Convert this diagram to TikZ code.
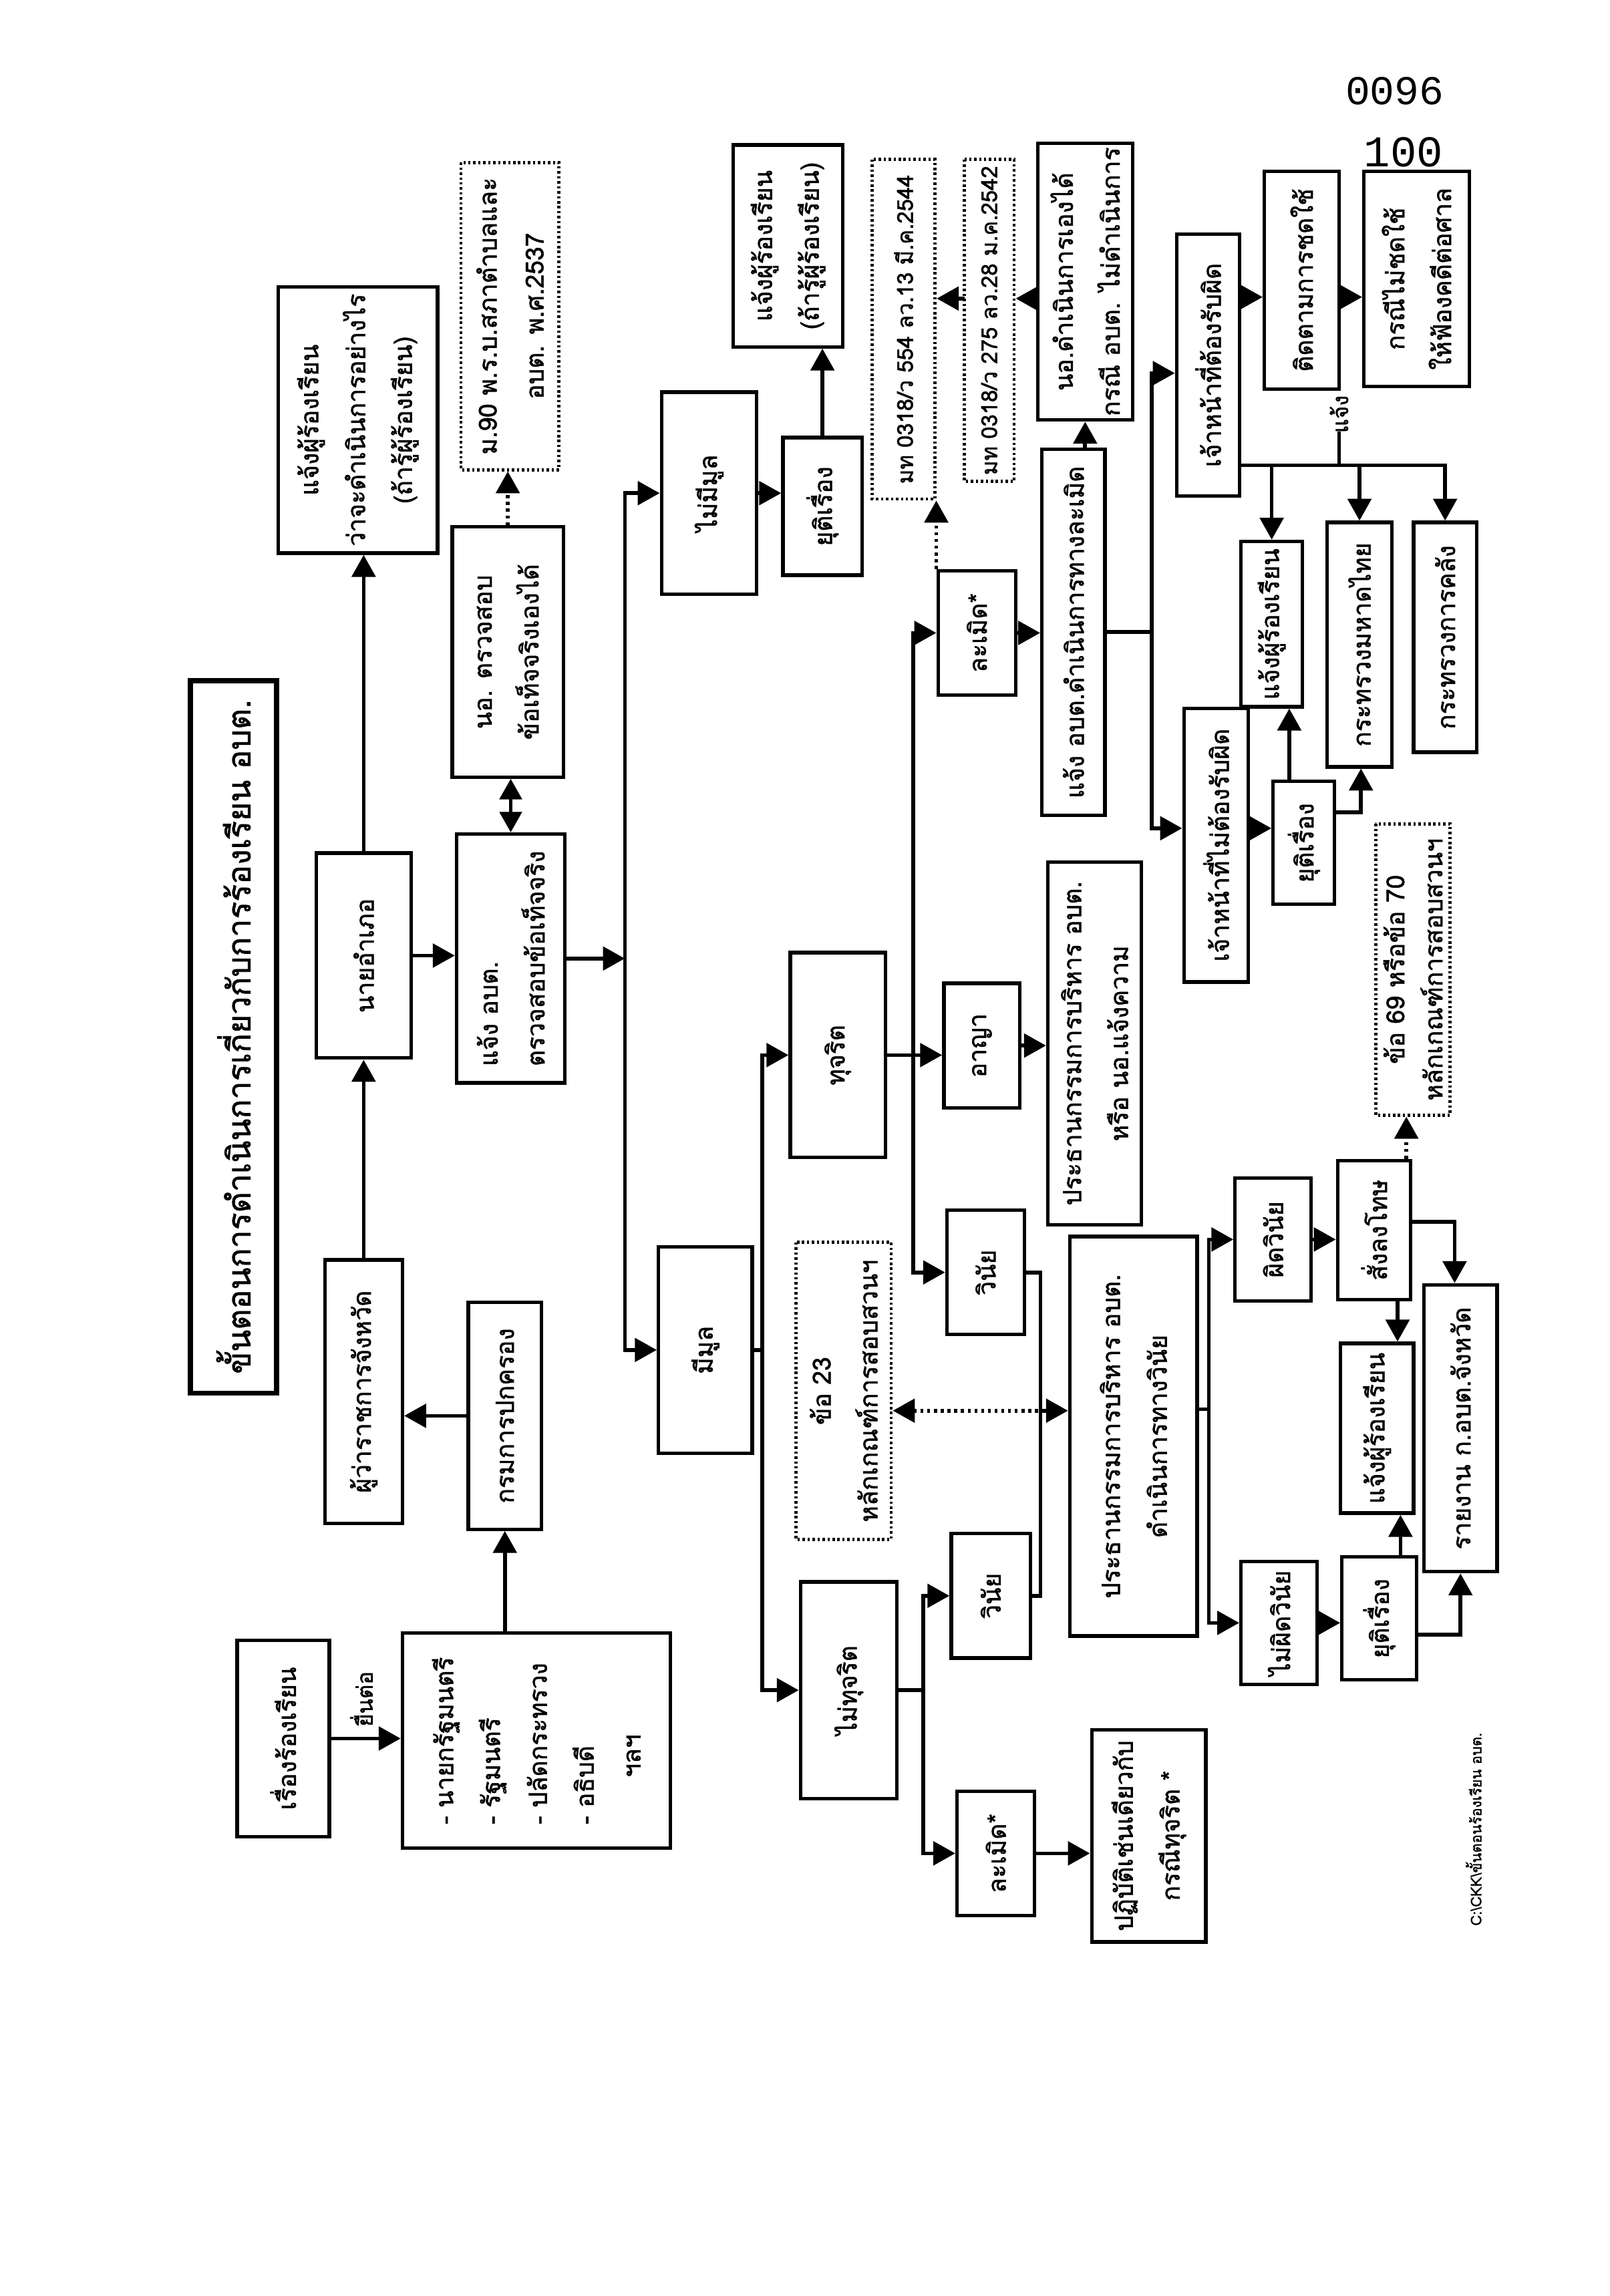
\documentclass[tikz,border=0pt]{standalone}
\usepackage{fontspec}
\setmainfont[Script=Thai,FakeBold=1.5]{Loma}
\newfontfamily\numfont{Liberation Mono}
\usetikzlibrary{arrows.meta}

\tikzset{
  box/.style={draw, line width=2.4pt, rotate=90, align=center, inner sep=0.5pt,
    font=\fontsize{17}{32}\selectfont},
  dotbox/.style={box, line width=2.2pt, dash pattern=on 1.6pt off 1.8pt},
  memobox/.style={dotbox, font=\fontsize{15}{20}\selectfont},
  titlebox/.style={box, line width=3.6pt, font=\fontsize{22}{26}\selectfont},
  lbl/.style={rotate=90, inner sep=0pt, font=\fontsize{15}{18}\selectfont},
  wire/.style={line width=2.6pt, line cap=rect},
  flow/.style={wire, -{Triangle[length=15pt,width=16pt]}},
  both/.style={wire, {Triangle[length=14pt,width=15pt]}-{Triangle[length=14pt,width=15pt]}},
  dotflow/.style={flow, line cap=butt, dash pattern=on 2pt off 2.6pt},
  backdot/.style={dotflow, {Triangle[length=15pt,width=16pt]}-},
}

\begin{document}
\begin{tikzpicture}[x=1pt,y=-1pt]
            \useasboundingbox (0,0) rectangle (1100,1569);
            \fill[white] (0,0) rectangle (1100,1569);

            \node[titlebox, minimum width=487pt, minimum height=59pt] (title) at (159.5,708.5) {ขั้นตอนการดำเนินการเกี่ยวกับการร้องเรียน อบต.};

            \node[box, minimum width=134pt, minimum height=63pt] (complaint) at (193.5,1188) {เรื่องร้องเรียน};
            \node[box, minimum width=147pt, minimum height=183pt, align=left] (recipients) at (366.5,1189.5) {- นายกรัฐมนตรี\\- รัฐมนตรี\\- ปลัดกระทรวง\\- อธิบดี\\\hspace*{32pt}ฯลฯ};
            \node[box, minimum width=180pt, minimum height=53pt] (governor) at (248.5,951) {ผู้ว่าราชการจังหวัด};
            \node[box, minimum width=155pt, minimum height=50pt] (dopa) at (345,967.5) {กรมการปกครอง};
            \node[box, minimum width=140pt, minimum height=65pt] (nayamphoe) at (248.5,653) {นายอำเภอ};
            \node[box, minimum width=182pt, minimum height=109pt] (inform1) at (244.5,287) {แจ้งผู้ร้องเรียน\\ว่าจะดำเนินการอย่างไร\\(ถ้ารู้ผู้ร้องเรียน)};
            \node[box, minimum width=170pt, minimum height=74pt, align=left] (tellaobt) at (349,655) {แจ้ง อบต.\\ตรวจสอบข้อเท็จจริง};
            \node[box, minimum width=171pt, minimum height=76pt] (selfcheck) at (347,445.5) {นอ. ตรวจสอบ\\ข้อเท็จจริงเองได้};
            \node[dotbox, minimum width=210pt, minimum height=67pt] (law90) at (348.5,216) {ม.90 พ.ร.บ.สภาตำบลและ\\อบต. พ.ศ.2537};

            \node[box, minimum width=138pt, minimum height=65pt] (nobasis) at (484.5,337) {ไม่มีมูล};
            \node[box, minimum width=141pt, minimum height=64pt] (basis) at (482,922.5) {มีมูล};
            \node[box, minimum width=94pt, minimum height=54pt] (stopA) at (562,346) {ยุติเรื่อง};
            \node[box, minimum width=138pt, minimum height=75pt] (informA) at (538.5,168) {แจ้งผู้ร้องเรียน\\(ถ้ารู้ผู้ร้องเรียน)};
            \node[box, minimum width=140pt, minimum height=65pt] (corrupt) at (572.5,721) {ทุจริต};
            \node[box, minimum width=148pt, minimum height=66pt] (notcorrupt) at (580,1155) {ไม่ทุจริต};
            \node[dotbox, minimum width=203pt, minimum height=65pt] (rule23) at (576.5,950.5) {ข้อ 23\\หลักเกณฑ์การสอบสวนฯ};

            \node[memobox, minimum width=232pt, minimum height=43pt] (order554) at (617.5,225) {มท 0318/ว 554 ลว.13 มี.ค.2544};
            \node[memobox, minimum width=220pt, minimum height=34pt] (order275) at (676,219) {มท 0318/ว 275 ลว.28 ม.ค.2542};
            \node[box, minimum width=85pt, minimum height=53pt] (tortA) at (667.5,432.5) {ละเมิด*};
            \node[box, minimum width=85pt, minimum height=52pt] (criminal) at (671,714.5) {อาญา};
            \node[box, minimum width=85pt, minimum height=53pt] (disciplineA) at (673.5,869.5) {วินัย};
            \node[box, minimum width=85pt, minimum height=54pt] (disciplineB) at (677,1090.5) {วินัย};
            \node[box, minimum width=85pt, minimum height=53pt] (tortB) at (680.5,1266.5) {ละเมิด*};
            \node[box, minimum width=189pt, minimum height=65pt] (amphoeact) at (741.5,192.5) {นอ.ดำเนินการเองได้\\กรณี อบต. ไม่ดำเนินการ};
            \node[box, minimum width=250pt, minimum height=43pt] (torttell) at (733.5,432) {แจ้ง อบต.ดำเนินการทางละเมิด};
            \node[box, minimum width=248pt, minimum height=64pt] (chairpolice) at (748,713) {ประธานกรรมการบริหาร อบต.\\หรือ นอ.แจ้งความ};
            \node[box, minimum width=273pt, minimum height=87pt] (chairdisc) at (774.5,981.5) {ประธานกรรมการบริหาร อบต.\\ดำเนินการทางวินัย};
            \node[box, minimum width=145pt, minimum height=78pt] (sameas) at (785,1254.5) {ปฏิบัติเช่นเดียวกับ\\กรณีทุจริต *};

            \node[box, minimum width=179pt, minimum height=43pt] (liable) at (825.5,249.5) {เจ้าหน้าที่ต้องรับผิด};
            \node[box, minimum width=187pt, minimum height=44pt] (notliable) at (831,577.5) {เจ้าหน้าที่ไม่ต้องรับผิด};
            \node[box, minimum width=149pt, minimum height=51pt] (followup) at (889.5,191.5) {ติดตามการชดใช้};
            \node[box, minimum width=147pt, minimum height=72pt] (lawsuit) at (968,190.5) {กรณีไม่ชดใช้\\ให้ฟ้องคดีต่อศาล};
            \node[box, minimum width=113pt, minimum height=42pt] (informB) at (869,426.5) {แจ้งผู้ร้องเรียน};
            \node[box, minimum width=167pt, minimum height=44pt] (interior) at (929,440.5) {กระทรวงมหาดไทย};
            \node[box, minimum width=157pt, minimum height=43pt] (finance) at (987.5,435.5) {กระทรวงการคลัง};
            \node[box, minimum width=84pt, minimum height=42pt] (stopB) at (891,576) {ยุติเรื่อง};
            \node[box, minimum width=84pt, minimum height=52pt] (guilty) at (870,847) {ผิดวินัย};
            \node[box, minimum width=95pt, minimum height=50pt] (punish) at (939,840.5) {สั่งลงโทษ};
            \node[dotbox, minimum width=199pt, minimum height=51pt, font=\fontsize{17}{26}\selectfont] (rule69) at (965.5,662.5) {ข้อ 69 หรือข้อ 70\\หลักเกณฑ์การสอบสวนฯ};
            \node[box, minimum width=116pt, minimum height=50pt] (informC) at (941,976) {แจ้งผู้ร้องเรียน};
            \node[box, minimum width=196pt, minimum height=50pt] (report) at (998,976) {รายงาน ก.อบต.จังหวัด};
            \node[box, minimum width=84pt, minimum height=52pt] (notguilty) at (874,1109) {ไม่ผิดวินัย};
            \node[box, minimum width=84pt, minimum height=51pt] (stopC) at (942.5,1106) {ยุติเรื่อง};

            \node[lbl] (submitlbl) at (247,1161) {ยื่นต่อ};
            \node[lbl] (notifylbl) at (915,283) {แจ้ง};
            \node[inner sep=0pt, font=\numfont\fontsize{28}{30}\selectfont] (stamp) at (953,62) {0096};
            \node[inner sep=0pt, font=\numfont\fontsize{30}{32}\selectfont] (sheet) at (959,104) {100};
            \node[lbl, font=\fontsize{10}{12}\selectfont] (filepath) at (1007,1250) {C:\textbackslash CKK\textbackslash ขั้นตอนร้องเรียน อบต.};

            \coordinate (splitAtop) at (427,337);
            \coordinate (splitAmid) at (427,655);
            \coordinate (splitAbot) at (427,922.5);
            \coordinate (splitBtop) at (521,721);
            \coordinate (splitBbot) at (521,1155);
            \coordinate (splitCtop) at (624,432.5);
            \coordinate (splitCbot) at (624,869.5);
            \coordinate (memorow) at (700,204);
            \coordinate (splitDtop) at (787,255);
            \coordinate (splitDbot) at (787,566);
            \coordinate (payrow) at (850,203);
            \coordinate (notifyrow) at (900,318);
            \coordinate (upB) at (881,500);
            \coordinate (elbowB) at (930,555);
            \coordinate (splitE) at (711,964);
            \coordinate (splitFtop) at (631,1090.5);
            \coordinate (splitFbot) at (631,1266.5);
            \coordinate (splitGmid) at (826,963);
            \coordinate (splitGtop) at (826,847);
            \coordinate (splitGbot) at (826,1109);
            \coordinate (upP) at (961,780);
            \coordinate (elbowP) at (994,835);
            \coordinate (downP) at (955,900);
            \coordinate (upC) at (957,1050);
            \coordinate (elbowC) at (998,1117);

            \draw[flow] (complaint.south) -- (complaint.south -| recipients.north);
            \draw[flow] (dopa.west |- recipients.east) -- (dopa.west);
            \draw[flow] (dopa.north) -- (dopa.north -| governor.south);
            \draw[flow] (governor.east) -- (governor.east |- nayamphoe.west);
            \draw[flow] (nayamphoe.east) -- (nayamphoe.east |- inform1.west);
            \draw[flow] (nayamphoe.south) -- (nayamphoe.south -| tellaobt.north);
            \draw[both] (tellaobt.east) -- (tellaobt.east |- selfcheck.west);
            \draw[dotflow] (selfcheck.east) -- (selfcheck.east |- law90.west);

            \draw[flow] (tellaobt.south) -- (splitAmid);
            \draw[wire] (splitAtop) -- (splitAbot);
            \draw[flow] (splitAtop) -- (splitAtop -| nobasis.north);
            \draw[flow] (splitAbot) -- (splitAbot -| basis.north);
            \draw[flow] (nobasis.south) -- (nobasis.south -| stopA.north);
            \draw[flow] (stopA.east) -- (stopA.east |- informA.west);

            \draw[wire] (basis.south) -- (basis.south -| splitBtop);
            \draw[wire] (splitBtop) -- (splitBbot);
            \draw[flow] (splitBtop) -- (corrupt.north);
            \draw[flow] (splitBbot) -- (notcorrupt.north);

            \draw[flow] (corrupt.south) -- (corrupt.south -| criminal.north);
            \draw[wire] (splitCtop) -- (splitCbot);
            \draw[flow] (splitCtop) -- (tortA.north);
            \draw[flow] (splitCbot) -- (disciplineA.north);
            \draw[dotflow] (tortA.north east) -- (tortA.north east |- order554.south west);
            \draw[flow] (tortA.south) -- (tortA.south -| torttell.north);
            \draw[flow] (amphoeact.west |- torttell.east) -- (amphoeact.west);
            \draw[flow] (amphoeact.north |- memorow) -- (order275.south |- memorow);
            \draw[flow] (order275.north |- memorow) -- (order554.south |- memorow);

            \draw[wire] (torttell.south) -- (torttell.south -| splitDtop);
            \draw[wire] (splitDtop) -- (splitDbot);
            \draw[flow] (splitDtop) -- (splitDtop -| liable.north);
            \draw[flow] (splitDbot) -- (splitDbot -| notliable.north);
            \draw[flow] (liable.south |- payrow) -- (followup.north |- payrow);
            \draw[flow] (followup.south |- payrow) -- (lawsuit.north |- payrow);
            \draw[wire] (liable.south |- notifyrow) -- (finance |- notifyrow);
            \draw[flow] (informB |- notifyrow) -- (informB.east);
            \draw[flow] (interior |- notifyrow) -- (interior.east);
            \draw[flow] (finance |- notifyrow) -- (finance.east);
            \draw[wire] (notifylbl.west) -- (notifylbl.west |- notifyrow);
            \draw[flow] (notliable.south |- splitDbot) -- (stopB.north |- splitDbot);
            \draw[flow] (upB |- stopB.east) -- (upB |- informB.west);
            \draw[flow] (stopB.south |- elbowB) -- (elbowB) -- (elbowB |- interior.west);

            \draw[flow] (criminal.south) -- (criminal.south -| chairpolice.north);
            \draw[wire] (disciplineA.south) -| (splitE) |- (disciplineB.south);
            \draw[flow] (splitE) -- (splitE -| chairdisc.north);
            \draw[backdot] (rule23.south |- splitE) -- (splitE);
            \draw[wire] (notcorrupt.south) -- (notcorrupt.south -| splitFtop);
            \draw[wire] (splitFtop) -- (splitFbot);
            \draw[flow] (splitFtop) -- (disciplineB.north);
            \draw[flow] (splitFbot) -- (tortB.north);
            \draw[flow] (tortB.south) -- (tortB.south -| sameas.north);

            \draw[wire] (chairdisc.south |- splitGmid) -- (splitGmid);
            \draw[wire] (splitGtop) -- (splitGbot);
            \draw[flow] (splitGtop) -- (guilty.north);
            \draw[flow] (splitGbot) -- (notguilty.north);
            \draw[flow] (guilty.south) -- (guilty.south -| punish.north);
            \draw[dotflow] (upP |- punish.east) -- (upP |- rule69.west);
            \draw[flow] (punish.south |- elbowP) -- (elbowP) -- (elbowP |- report.east);
            \draw[flow] (downP |- punish.west) -- (downP |- informC.east);
            \draw[flow] (notguilty.south) -- (notguilty.south -| stopC.north);
            \draw[flow] (upC |- stopC.east) -- (upC |- informC.west);
            \draw[flow] (stopC.south |- elbowC) -- (elbowC) -- (elbowC |- report.west);
\end{tikzpicture}
\end{document}
